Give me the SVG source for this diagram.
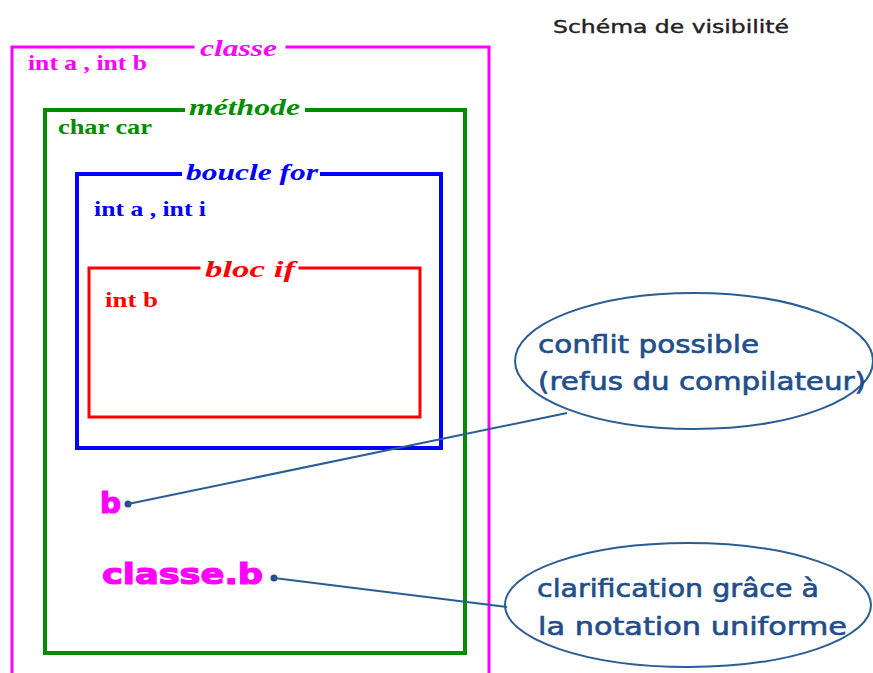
<svg xmlns="http://www.w3.org/2000/svg" width="873" height="673" viewBox="0 0 873 673">
<style>
.box{fill:none;stroke-linecap:square}
.ttl{font-family:"Liberation Serif",serif;font-weight:bold;font-style:italic;font-size:24px}
.lbl{font-family:"Liberation Serif",serif;font-weight:bold;font-size:21px}
.big{font-family:"DejaVu Sans","Liberation Sans",sans-serif;font-weight:bold;font-size:29px;fill:#ff00ff;stroke:#ff00ff;stroke-width:1.2}
.call{font-family:"DejaVu Sans","Liberation Sans",sans-serif;font-size:24px;fill:#1f4e8a;stroke:#1f4e8a;stroke-width:0.6}
.bubble{fill:none;stroke:#2a5d96;stroke-width:2}
.conn{fill:none;stroke:#2a5d96;stroke-width:2}
</style>
<rect width="873" height="673" fill="#ffffff"/>
<text x="553" y="33" font-family="DejaVu Sans, Liberation Sans, sans-serif" font-size="18" fill="#222" stroke="#222" stroke-width="0.4" textLength="236" lengthAdjust="spacingAndGlyphs">Schéma de visibilité</text>

<g id="classe">
<path class="box" d="M193,47 H12 V680 M287,47 H489 V680" stroke="#ff00ff" stroke-width="3"/>
<text class="ttl" x="200" y="56" fill="#ff00ff" textLength="77" lengthAdjust="spacingAndGlyphs">classe</text>
<text class="lbl" x="28" y="70" fill="#ff00ff" textLength="119" lengthAdjust="spacingAndGlyphs">int a , int b</text>
</g>

<g id="methode">
<path class="box" d="M183,110 H45 V653 H465 V110 H307" stroke="#008c00" stroke-width="4"/>
<text class="ttl" x="189" y="115" fill="#008c00" textLength="111" lengthAdjust="spacingAndGlyphs">méthode</text>
<text class="lbl" x="58" y="134" fill="#008c00" textLength="94" lengthAdjust="spacingAndGlyphs">char car</text>
</g>

<g id="boucle">
<path class="box" d="M180,174 H77 V448 H441 V174 H322" stroke="#0000ff" stroke-width="4"/>
<text class="ttl" x="186" y="180" fill="#0000ff" textLength="132" lengthAdjust="spacingAndGlyphs">boucle for</text>
<text class="lbl" x="94" y="216" fill="#0000ff" textLength="112" lengthAdjust="spacingAndGlyphs">int a , int i</text>
</g>

<g id="blocif">
<path class="box" d="M199,268 H89 V417 H420 V268 H300" stroke="#ff0000" stroke-width="3"/>
<text class="ttl" x="205" y="277" fill="#ff0000" textLength="90" lengthAdjust="spacingAndGlyphs">bloc if</text>
<text class="lbl" x="105" y="307" fill="#ff0000" textLength="53" lengthAdjust="spacingAndGlyphs">int b</text>
</g>

<g id="b">
<text class="big" x="100" y="513" textLength="21" lengthAdjust="spacingAndGlyphs">b</text>
</g>
<g id="classe-b">
<text class="big" x="102" y="584" textLength="161" lengthAdjust="spacingAndGlyphs">classe.b</text>
</g>

<g id="bulle-conflit">
<ellipse class="bubble" cx="694" cy="361" rx="179" ry="68"/>
<text class="call" x="538" y="353" textLength="221" lengthAdjust="spacingAndGlyphs">conflit possible</text>
<text class="call" x="538" y="390" textLength="328" lengthAdjust="spacingAndGlyphs">(refus du compilateur)</text>
</g>

<g id="bulle-clarification">
<ellipse class="bubble" cx="688" cy="605" rx="183" ry="62"/>
<text class="call" x="537" y="597" textLength="282" lengthAdjust="spacingAndGlyphs">clarification grâce à</text>
<text class="call" x="538" y="635" textLength="309" lengthAdjust="spacingAndGlyphs">la notation uniforme</text>
</g>

<g id="connectors">
<circle cx="128" cy="504" r="3.5" fill="#1f4e8a"/>
<path class="conn" d="M128,504 L567,413"/>
<circle cx="274" cy="578" r="3.5" fill="#1f4e8a"/>
<path class="conn" d="M274,578 L507,607"/>
</g>
</svg>
